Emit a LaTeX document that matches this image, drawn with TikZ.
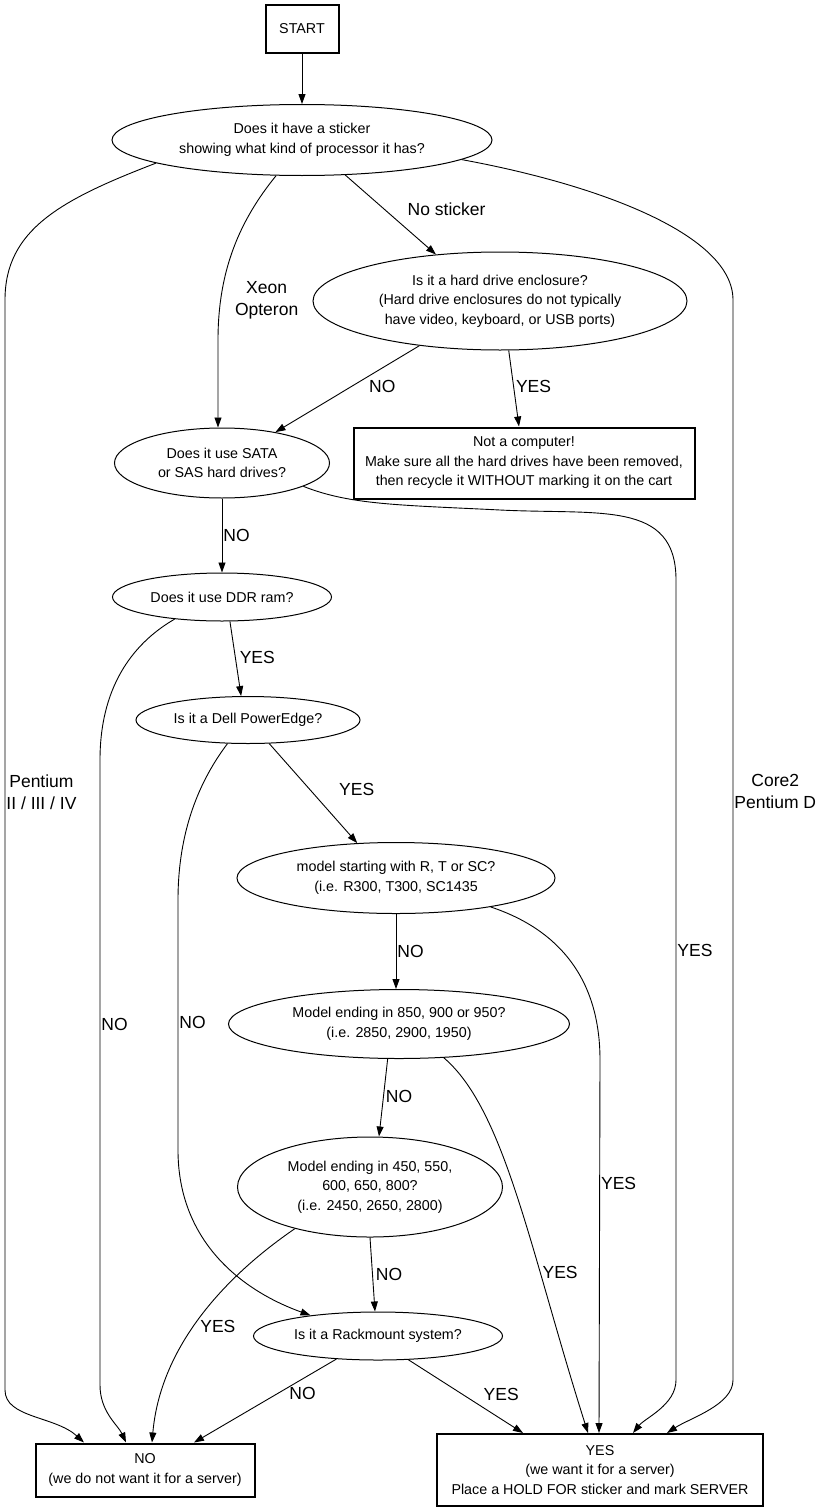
\documentclass[tikz,border=0pt]{standalone}
\usepackage{fontspec}
\setmainfont{Liberation Sans}
\usetikzlibrary{shapes.geometric, positioning, arrows.meta}

\newcommand{\qfont}{\fontsize{14.3}{19.5}\selectfont}
\newcommand{\efont}{\fontsize{17.5}{22}\selectfont}
\tikzset{
  question/.style={ellipse, draw, line width=1pt, inner sep=0pt, align=center, font=\qfont},
  verdict/.style={rectangle, draw, line width=2pt, inner sep=0pt, align=center, font=\qfont},
  choice/.style={font=\efont, align=center, inner sep=0pt},
}

\begin{document}
\begin{tikzpicture}[x=1pt, y=-1pt, on grid, line width=0.9pt, >={Triangle[length=10pt,width=7pt]}]
    \useasboundingbox (0,0) rectangle (823,1512);

    \node[verdict, minimum width=73pt, minimum height=48pt] (start) at (302,29) {START};
    \node[question, minimum width=380pt, minimum height=71pt] (sticker) [below=111pt of start] {Does it have a sticker\\showing what kind of processor it has?};
    \node[question, minimum width=374pt, minimum height=98pt] (encl) [below right=161pt and 198pt of sticker] {Is it a hard drive enclosure?\\(Hard drive enclosures do not typically\\have video, keyboard, or USB ports)};
    \node[verdict, minimum width=341pt, minimum height=71pt] (notpc) [below right=162pt and 24pt of encl] {Not a computer!\\Make sure all the hard drives have been removed,\\then recycle it WITHOUT marking it on the cart};
    \node[question, minimum width=215pt, minimum height=70pt] (sata) [below left=323pt and 80pt of sticker] {Does it use SATA\\or SAS hard drives?};
    \node[question, minimum width=219pt, minimum height=48pt] (ddr) [below=134pt of sata] {Does it use DDR ram?};
    \node[question, minimum width=224pt, minimum height=47pt] (dell) [below right=123pt and 26pt of ddr] {Is it a Dell PowerEdge?};
    \node[question, minimum width=318pt, minimum height=71pt] (rts) [below right=158pt and 148pt of dell] {model starting with R, T or SC?\\(i.e. R300, T300, SC1435};
    \node[question, minimum width=341pt, minimum height=69pt] (m850) [below right=146pt and 3pt of rts] {Model ending in 850, 900 or 950?\\(i.e. 2850, 2900, 1950)};
    \node[question, minimum width=265pt, minimum height=100pt] (m450) [below left=163pt and 29pt of m850] {Model ending in 450, 550,\\600, 650, 800?\\(i.e. 2450, 2650, 2800)};
    \node[question, minimum width=249pt, minimum height=48pt] (rack) [below right=149pt and 8pt of m450] {Is it a Rackmount system?};
    \node[verdict, minimum width=219pt, minimum height=53pt] (no) [below left=134pt and 233pt of rack] {NO\\(we do not want it for a server)};
    \node[verdict, minimum width=326pt, minimum height=72pt] (yes) [below right=134pt and 222pt of rack] {YES\\(we want it for a server)\\Place a HOLD FOR sticker and mark SERVER};

    % straight connectors
    \path[->]
    (start)          edge (sticker)
    (sticker.321)    edge node[pos=.43, right=23pt, choice] {No sticker} (encl.144)
    (encl.209)       edge node[pos=.47, right=17pt, choice] {NO} (sata.30)
    (encl.280)       edge node[pos=.47, right=2pt, choice] {YES} ([xshift=-5pt]notpc.north)
    (sata)           edge node[midway, right=1pt, choice] {NO} (ddr)
    (ddr.288)        edge node[pos=.48, right=4pt, choice] {YES} (dell.106)
    (dell.312)       edge node[pos=.46, right=29pt, choice] {YES} (rts.138)
    (rts.south)      edge node[midway, right=1pt, choice] {NO} (rts.south |- m850.north)
    (m850.252)       edge node[pos=.48, right=2pt, choice] {NO} ([xshift=9pt]m450.north)
    (m450.south)     edge node[midway, right=3pt, choice] {NO} ([xshift=-3pt]rack.north)
    (rack.209)       edge node[pos=.41, right=11pt, choice] {NO} ([xshift=49pt]no.north)
    (rack.322)       edge node[pos=.47, right=21pt, choice] {YES} ([xshift=-77pt]yes.north);

    % routed connectors
    \draw[->] (sticker.189) .. controls (60,200) and (5,230) .. (5,300)
        -- node[pos=.452, right=1pt, choice] {Pentium\\II / III / IV} (5,1390)
        .. controls (5,1418) and (55,1416) .. ([xshift=-61pt]no.north);
    \draw[->] (sticker.234) .. controls (240,220) and (218,270) .. node[pos=.8, right=14pt, choice] {Xeon\\Opteron} (218,340)
        -- ([xshift=-4pt]sata.north);
    \draw[->] (sticker.353) .. controls (600,185) and (733,235) .. (733,300)
        -- node[pos=.455, right=1pt, choice] {Core2\\Pentium D} (733,1380)
        .. controls (733,1405) and (690,1418) .. ([xshift=67pt]yes.north);
    \draw[->] (sata.344) .. controls (350,505) and (400,505) .. (500,510)
        .. controls (600,515) and (676,500) .. (676,580)
        -- node[pos=.4625, right=1pt, choice] {YES} (676,1380)
        .. controls (676,1405) and (645,1418) .. ([xshift=33pt]yes.north);
    \draw[->] (ddr.205) .. controls (130,645) and (100,690) .. (100,760)
        -- node[pos=.4226, right=1pt, choice] {NO} (100,1385)
        .. controls (100,1412) and (118,1425) .. ([xshift=-19pt]no.north);
    \draw[->] (dell.229) .. controls (200,780) and (178,830) .. (178,900)
        -- node[pos=.488, right=1pt, choice] {NO} (178,1150)
        .. controls (178,1240) and (240,1290) .. (rack.163);
    \draw[->] (rts.343) .. controls (560,930) and (600,980) .. (600,1060)
        -- node[pos=.33, right=1pt, choice] {YES} ([xshift=-1pt]yes.north);
    \draw[->] (m850.323) .. controls (505,1110) and (530,1250) .. node[pos=.68, right=2pt, choice] {YES} ([xshift=-12pt]yes.north);
    \draw[->] (m450.209) .. controls (220,1280) and (160,1350) .. node[pos=.53, right=6pt, choice] {YES} ([xshift=7pt]no.north);

\end{tikzpicture}
\end{document}
